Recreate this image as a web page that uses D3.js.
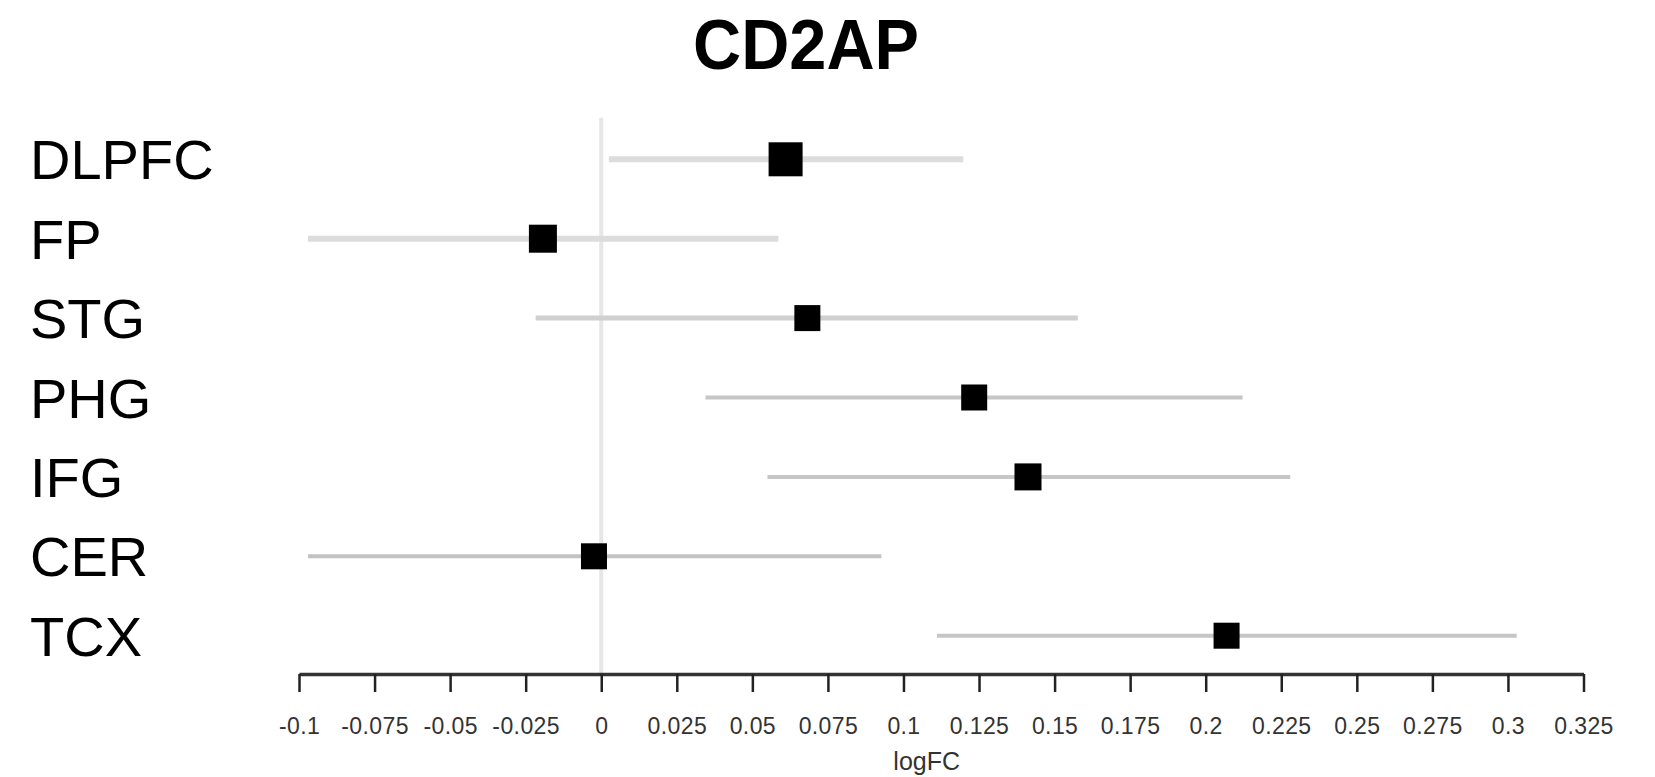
<!DOCTYPE html>
<html>
<head>
<meta charset="utf-8">
<script src="https://cdn.jsdelivr.net/npm/d3@7"></script>
<style>
  html, body { margin: 0; padding: 0; background: #fff; }
  svg { display: block; font-family: "Liberation Sans", Arial, Helvetica, sans-serif; }
</style>
</head>
<body>
<svg id="chart" width="1655" height="777"></svg>
<script>
// ---- data ----
const title = "CD2AP";
const regions = ["DLPFC", "FP", "STG", "PHG", "IFG", "CER", "TCX"];
const logFC   = [0.0610, -0.0193, 0.0682, 0.1234, 0.1412, -0.0024, 0.2069];
const ciLow   = [0.0025, -0.0970, -0.0217, 0.0345, 0.0550, -0.0970, 0.1111];
const ciHigh  = [0.1198, 0.0586, 0.1577, 0.2122, 0.2280, 0.0927, 0.3029];
const tickValues = [-0.1, -0.075, -0.05, -0.025, 0, 0.025, 0.05, 0.075, 0.1, 0.125, 0.15, 0.175, 0.2, 0.225, 0.25, 0.275, 0.3, 0.325];
const tickLabels = ["-0.1", "-0.075", "-0.05", "-0.025", "0", "0.025", "0.05", "0.075", "0.1", "0.125", "0.15", "0.175", "0.2", "0.225", "0.25", "0.275", "0.3", "0.325"];
const xLabel = "logFC";

// ---- styles (not data) ----
const boxSizes = [34, 28, 26, 26, 27, 26, 26];
const ciColors = ["#dcdcdc", "#dcdcdc", "#d0d0d0", "#c6c6c6", "#c6c6c6", "#c2c2c2", "#c6c6c6"];
const ciWidths = [6, 6, 5, 4, 4, 4, 4];

const svg = d3.select("#chart");

const x = d3.scaleLinear().domain([-0.1, 0.325]).range([299, 1583.5]);
const y = d3.scalePoint().domain(regions).range([159.3, 635.7]);
const axisY = 674;

// title
svg.append("text")
  .attr("x", 806).attr("y", 68.6)
  .attr("text-anchor", "middle")
  .attr("font-weight", "bold")
  .attr("font-size", 70)
  .attr("textLength", 226)
  .attr("lengthAdjust", "spacingAndGlyphs")
  .attr("fill", "#000")
  .text(title);

// zero reference line
svg.append("line")
  .attr("x1", x(0)).attr("x2", x(0))
  .attr("y1", 118).attr("y2", axisY)
  .attr("stroke", "#e6e6e6").attr("stroke-width", 4);

// row labels
svg.append("g").selectAll("text").data(regions).join("text")
  .attr("x", 30).attr("y", d => y(d))
  .attr("dy", "0.36em")
  .attr("font-size", 56)
  .attr("fill", "#000")
  .text(d => d);

// CI lines
const rows = regions.map((r, i) => ({ r, i, m: logFC[i], lo: ciLow[i], hi: ciHigh[i] }));
svg.append("g").selectAll("line").data(rows).join("line")
  .attr("x1", d => x(d.lo)).attr("x2", d => x(d.hi))
  .attr("y1", d => y(d.r)).attr("y2", d => y(d.r))
  .attr("stroke", d => ciColors[d.i])
  .attr("stroke-width", d => ciWidths[d.i]);

// boxes
svg.append("g").selectAll("rect").data(rows).join("rect")
  .attr("x", d => x(d.m) - boxSizes[d.i] / 2)
  .attr("y", d => y(d.r) - boxSizes[d.i] / 2)
  .attr("width", d => boxSizes[d.i])
  .attr("height", d => boxSizes[d.i])
  .attr("fill", "#000");

// x axis
const axis = d3.axisBottom(x)
  .tickValues(tickValues)
  .tickFormat((d, i) => tickLabels[i])
  .tickSize(18)
  .tickPadding(26)
  .tickSizeOuter(0);

const gAxis = svg.append("g")
  .attr("transform", `translate(0,${axisY})`)
  .call(axis);
gAxis.select(".domain").attr("stroke", "#333").attr("stroke-width", 3.5);
gAxis.selectAll(".tick line").attr("stroke", "#222").attr("stroke-width", 2.5);
gAxis.selectAll(".tick text")
  .attr("font-size", 23)
  .attr("letter-spacing", "0.4px")
  .attr("fill", "#333")
  .attr("font-family", "'Liberation Sans', Arial, sans-serif");

// x label
svg.append("text")
  .attr("x", 926.7).attr("y", 770)
  .attr("text-anchor", "middle")
  .attr("font-size", 25)
  .attr("fill", "#333")
  .text(xLabel);
</script>
</body>
</html>
